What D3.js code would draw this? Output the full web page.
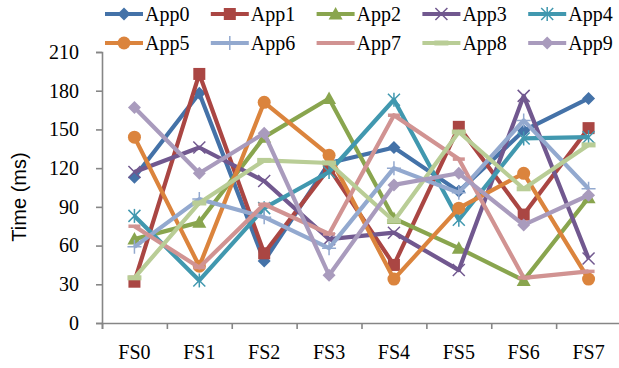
<!DOCTYPE html>
<html>
<head>
<meta charset="utf-8">
<script src="https://cdn.jsdelivr.net/npm/d3@7"></script>
<style>
  body { margin: 0; background: #fff; }
  svg { display: block; }
  svg text.serif { font-family: "Liberation Serif", "Times New Roman", "DejaVu Serif", serif; font-size: 20px; fill: #000; }
  svg text.sans { font-family: "Liberation Sans", Arial, sans-serif; font-size: 20px; fill: #000; }
</style>
</head>
<body>
<div id="chart"></div>
<script>
// categories and series
var categories = ["FS0", "FS1", "FS2", "FS3", "FS4", "FS5", "FS6", "FS7"];
var seriesNames = ["App0", "App1", "App2", "App3", "App4", "App5", "App6", "App7", "App8", "App9"];
var app0 = [113, 178, 48, 124, 136, 102, 149, 174];
var app1 = [32, 193, 54, 120, 45, 152, 84, 151];
var app2 = [65, 78, 144, 174, 81, 58, 33, 97];
var app3 = [117, 136, 110, 65, 70, 41, 176, 50];
var app4 = [83, 33, 89, 117, 173, 80, 143, 144];
var app5 = [144, 44, 171, 130, 34, 89, 116, 34];
var app6 = [59, 96, 82, 58, 120, 101, 157, 104];
var app7 = [75, 43, 92, 69, 161, 127, 35, 40];
var app8 = [35, 93, 126, 124, 79, 148, 104, 138];
var app9 = [167, 116, 147, 37, 107, 116, 76, 99];
var yTicks = [0, 30, 60, 90, 120, 150, 180, 210];

var allSeries = [app0, app1, app2, app3, app4, app5, app6, app7, app8, app9];
var colors = ["#4472A8", "#AA4643", "#89A54E", "#71588F", "#4198AF",
              "#DB843D", "#93A9CF", "#D19392", "#B9CD96", "#A99BBD"];
var markers = ["diamond", "square", "triangle", "x", "star",
               "circle", "plus", "dash", "bar", "diamond"];

var W = 619, H = 368;
var plotLeft = 102, plotRight = 621, plotTop = 52, plotBottom = 323;
var axisColor = "#868686";

var svg = d3.select("#chart").append("svg").attr("width", W).attr("height", H);

var x = d3.scaleBand().domain(categories).range([plotLeft, plotRight]);
var xEdge = d3.scaleLinear().domain([0, categories.length]).range([plotLeft, plotRight]);
var y = d3.scaleLinear().domain([0, 210]).range([plotBottom, plotTop]);

function cx(c) { return x(c) + x.bandwidth() / 2; }

// y axis
var yAxis = svg.append("g").attr("transform", "translate(" + plotLeft + ",0)")
  .call(d3.axisLeft(y).tickValues(yTicks).tickSize(6).tickPadding(17));
yAxis.attr("font-family", null).attr("font-size", null);
yAxis.selectAll("text").attr("class", "serif").attr("fill", null);

// x axis: boundary ticks + labels at centres
var xTicks = svg.append("g").attr("transform", "translate(0," + plotBottom + ")")
  .call(d3.axisBottom(xEdge).tickValues(d3.range(categories.length + 1)).tickSize(6).tickFormat(""));
var xLabels = svg.append("g").attr("transform", "translate(0," + plotBottom + ")")
  .call(d3.axisBottom(x).tickSize(0).tickPadding(22));
xLabels.attr("font-family", null).attr("font-size", null);
xLabels.select(".domain").remove();
xLabels.selectAll("text").attr("class", "serif").attr("fill", null);

svg.selectAll(".domain, .tick line").attr("stroke", axisColor).attr("stroke-width", 1.6);

// y title
svg.append("text")
  .attr("class", "sans")
  .attr("transform", "translate(26,197) rotate(-90)")
  .attr("text-anchor", "middle")
  .text("Time (ms)");

function drawMarker(g, type, color) {
  if (type == "diamond") {
    g.append("path").attr("d", "M0,-6.5L6.5,0L0,6.5L-6.5,0Z").attr("fill", color);
  } else if (type == "square") {
    g.append("rect").attr("x", -6).attr("y", -6).attr("width", 12).attr("height", 12).attr("fill", color);
  } else if (type == "triangle") {
    g.append("path").attr("d", "M0,-7L7,5.5L-7,5.5Z").attr("fill", color);
  } else if (type == "circle") {
    g.append("circle").attr("r", 6.5).attr("fill", color);
  } else if (type == "x" || type == "star") {
    g.append("path").attr("d", "M-6,-6L6,6M-6,6L6,-6")
      .attr("stroke", color).attr("stroke-width", 1.5).attr("fill", "none");
    if (type == "star") {
      g.append("path").attr("d", "M0,-7L0,7").attr("stroke", color).attr("stroke-width", 1.5);
    }
  } else if (type == "plus") {
    g.append("path").attr("d", "M-7,0L7,0M0,-7L0,7")
      .attr("stroke", color).attr("stroke-width", 1.5).attr("fill", "none");
  } else if (type == "dash") {
    g.append("path").attr("d", "M-6,0L6,0").attr("stroke", color).attr("stroke-width", 3.5);
  } else if (type == "bar") {
    g.append("path").attr("d", "M-7,0L7,0").attr("stroke", color).attr("stroke-width", 5);
  }
}

var line = d3.line().x(function(d, i){ return cx(categories[i]); }).y(function(d){ return y(d); });

var plot = svg.append("g");
for (var s = 0; s < allSeries.length; s++) {
  var sg = plot.append("g");
  sg.append("path").datum(allSeries[s]).attr("d", line)
    .attr("fill", "none").attr("stroke", colors[s]).attr("stroke-width", 4.2)
    .attr("stroke-linejoin", "round");
  for (var i = 0; i < categories.length; i++) {
    var mg = sg.append("g").attr("transform", "translate(" + cx(categories[i]) + "," + y(allSeries[s][i]) + ")");
    drawMarker(mg, markers[s], colors[s]);
  }
}

// legend: 2 rows x 5 columns
var legend = svg.append("g");
for (var k = 0; k < seriesNames.length; k++) {
  var col = k % 5, row = Math.floor(k / 5);
  var lx = 105 + col * 105.8, ly = row == 0 ? 14 : 43;
  var lg = legend.append("g").attr("transform", "translate(" + lx + "," + ly + ")");
  lg.append("line").attr("x1", 0).attr("x2", 38).attr("y1", 0).attr("y2", 0)
    .attr("stroke", colors[k]).attr("stroke-width", 4);
  var mk = lg.append("g").attr("transform", "translate(19,0)");
  drawMarker(mk, markers[k], colors[k]);
  lg.append("text").attr("class", "serif").attr("x", 40).attr("y", 7)
    .text(seriesNames[k]);
}
</script>
</body>
</html>
